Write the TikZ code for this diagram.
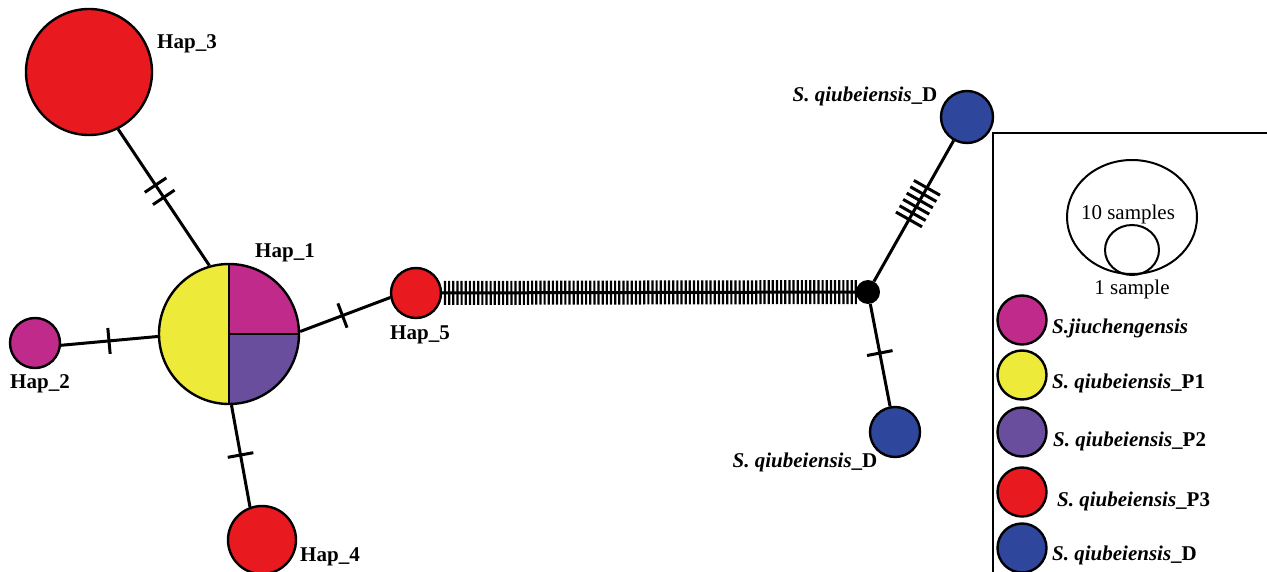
\documentclass[tikz,border=0pt]{standalone}
\usepackage{fontspec}
\setmainfont{Liberation Serif}
\usetikzlibrary{decorations.markings}
\pgfdeclarelayer{bg}
\pgfsetlayers{bg,main}
\definecolor{hred}{HTML}{E8191F}
\definecolor{hmag}{HTML}{C02A8A}
\definecolor{hyel}{HTML}{EDEA3A}
\definecolor{hpur}{HTML}{6A4E9E}
\definecolor{hblu}{HTML}{2E469C}
\tikzset{
  hap/.style={circle, draw=black, line width=2.4pt, inner sep=0pt, minimum size=#1},
  edge/.style={line width=3pt},
  lbl/.style={font=\fontsize{21}{21}\selectfont\bfseries, inner sep=0pt},
  txt/.style={font=\fontsize{21}{21}\selectfont, inner sep=0pt},
  tick at/.style={postaction={decorate, decoration={markings,
      mark=at position #1 with {\draw[line width=3pt] (0pt,-13pt) -- (0pt,13pt);}}}},
  long tick at/.style={postaction={decorate, decoration={markings,
      mark=at position #1 with {\draw[line width=3pt] (0pt,-15pt) -- (0pt,15pt);}}}},
  mutation bar/.style={postaction={decorate, decoration={markings,
      mark=between positions 29pt and 441pt step 4.15pt with
      {\draw[line width=2.2pt] (0pt,-12pt) -- (0pt,12pt);}}}}
}
\begin{document}
\begin{tikzpicture}[x=1pt, y=-1pt]
\useasboundingbox (0,0) rectangle (1267,572);

% Hap_1 pie chart (yellow half, magenta and purple quarters)
\coordinate (c1) at (229,334);
\fill[hyel] (c1) -- ++(0,70) arc[start angle=90, end angle=270, radius=70] -- cycle;
\fill[hmag] (c1) -- ++(70,0) arc[start angle=0, end angle=-90, radius=70] -- cycle;
\fill[hpur] (c1) -- ++(70,0) arc[start angle=0, end angle=90, radius=70] -- cycle;
\draw[line width=2.2pt] (c1) ++(0,-70) -- ++(0,140);
\draw[line width=2.2pt] (c1) -- ++(70,0);

% haplotype nodes
\node[hap=140pt] (hap1) at (c1) {};
\node[hap=126pt, fill=hred] (hap3) at (89,72) {};
\node[hap=50pt, fill=hmag] (hap2) at (35,343) {};
\node[hap=68pt, fill=hred] (hap4) at (262,540) {};
\node[hap=50pt, fill=hred] (hap5) at (416,293) {};
\node[circle, fill=black, inner sep=0pt, minimum size=24pt] (med) at (868,292) {};
\node[hap=52pt, fill=hblu] (dtop) at (967,117) {};
\node[hap=50pt, fill=hblu] (dbot) at (895,432) {};

% connectors with mutation ticks
\begin{pgfonlayer}{bg}
\draw[edge, tick at=0.41, tick at=0.50] (hap3.-63) -- (hap1.106);
\draw[edge, tick at=0.495] (hap2.-5) -- (hap1.182);
\draw[edge, tick at=0.47] (hap1.2) -- (hap5.190);
\draw[edge, tick at=0.49] (hap1.272) -- (hap4.110);
\draw[edge, mutation bar] (hap5.center) -- (med.center);
\draw[edge, long tick at=0.44, long tick at=0.485, long tick at=0.53,
      long tick at=0.575, long tick at=0.62, long tick at=0.665] (med) -- (dtop);
\draw[edge, tick at=0.48] (med) -- (dbot);
\end{pgfonlayer}

% haplotype labels
\node[lbl] (l3) at (187,44) {Hap\_3};
\node[lbl] (l1) at (285,253) {Hap\_1};
\node[lbl] (l2) at (40,384) {Hap\_2};
\node[lbl] (l4) at (330,557) {Hap\_4};
\node[lbl] (l5) at (420,335) {Hap\_5};
\node[lbl] (ld1) at (865,96) {\textit{S. qiubeiensis}\_D};
\node[lbl] (ld2) at (805,462) {\textit{S. qiubeiensis}\_D};

% legend
\draw[line width=1.8pt] (1267,133) -- (993,133) -- (993,572);
\draw[line width=2pt] (1132,217) ellipse[x radius=65, y radius=57];
\draw[line width=2pt] (1132,250) ellipse[x radius=27, y radius=25];
\node[txt] (s10) at (1128,214) {10 samples};
\node[txt] (s1) at (1132,289) {1 sample};

\node[hap=49pt, fill=hmag] (k1) at (1022,320) {};
\node[hap=49pt, fill=hyel] (k2) at (1022,375) {};
\node[hap=49pt, fill=hpur] (k3) at (1022,432) {};
\node[hap=49pt, fill=hred] (k4) at (1022,492) {};
\node[hap=49pt, fill=hblu] (k5) at (1022,548) {};
\node[lbl, anchor=base west] (t1) at (1052,334) {\textit{S.jiuchengensis}};
\node[lbl, anchor=base west] (t2) at (1052,388) {\textit{S. qiubeiensis}\_P1};
\node[lbl, anchor=base west] (t3) at (1053,446) {\textit{S. qiubeiensis}\_P2};
\node[lbl, anchor=base west] (t4) at (1057,506) {\textit{S. qiubeiensis}\_P3};
\node[lbl, anchor=base west] (t5) at (1052,560) {\textit{S. qiubeiensis}\_D};
\end{tikzpicture}
\end{document}
